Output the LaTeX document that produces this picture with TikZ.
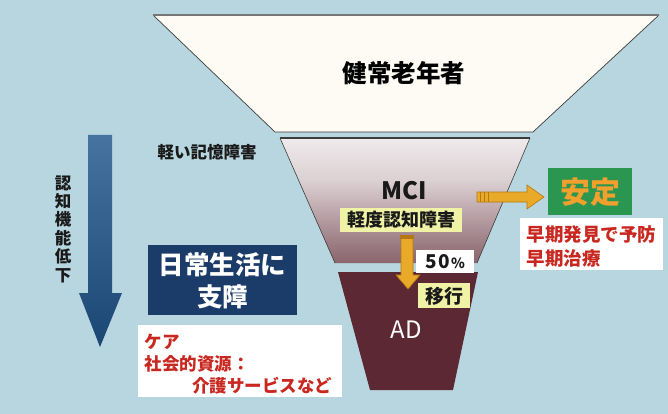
\documentclass[tikz,border=0pt]{standalone}
\usepackage{fontspec}
\newfontfamily\jp{Noto Sans CJK JP}
\usetikzlibrary{arrows.meta}
\definecolor{bgblue}{RGB}{184,214,223}
\definecolor{cream}{RGB}{253,251,244}
\definecolor{maroon}{RGB}{92,40,52}
\definecolor{navy}{RGB}{27,60,105}
\definecolor{arrowblueL}{RGB}{70,115,160}
\definecolor{arrowblueD}{RGB}{25,70,115}
\definecolor{gold}{RGB}{232,170,40}
\definecolor{golddark}{RGB}{180,120,20}
\definecolor{paleyellow}{RGB}{240,242,165}
\definecolor{boxgreen}{RGB}{42,150,80}
\definecolor{orangetext}{RGB}{242,160,45}
\definecolor{redtext}{RGB}{200,40,32}
\definecolor{edgegray}{RGB}{60,60,60}
\pgfdeclareverticalshading{mcishade}{100bp}{color(0bp)=(maroon); color(10bp)=(maroon!92!white); color(32bp)=(maroon!62!white); color(58bp)=(maroon!22!white); color(80bp)=(maroon!6!white); color(100bp)=(cream)}
\tikzset{
  jpbold/.style={font=\jp\bfseries\fontsize{#1}{#1}\selectfont},
}
\begin{document}
\begin{tikzpicture}[x=1pt,y=-1pt]
\useasboundingbox (0,0) rectangle (668,414);
\fill[bgblue] (0,0) rectangle (668,414);

% top trapezoid
\fill[cream] (153,15) -- (659,15) -- (533,132) -- (275,132) -- cycle;
\draw[edgegray, line width=0.7pt] (153,15) -- (275,132) -- (533,132) -- (659,15);
\draw[edgegray!70, line width=1.2pt] (153,15) -- (659,15);
\node[jpbold=24.5, text=black] (healthy) at (404,73) {健常老年者};

% middle (MCI) trapezoid
\shade[shading=mcishade] (280,138) -- (530,138) -- (477,263) -- (335,263) -- cycle;
\draw[edgegray, line width=1.3pt] (280,138) -- (530,138);
\draw[edgegray, line width=0.6pt] (280,138) -- (335,263);
\draw[edgegray, line width=0.6pt] (530,138) -- (477,263);

% AD trapezoid
\fill[maroon] (338,272) -- (478,272) -- (453,390) -- (370,390) -- cycle;
\node[font=\jp\fontsize{24}{24}\selectfont, text=white] (ad) at (406,330) {AD};

% mild memory impairment label
\node[jpbold=16.5, text=black!90] (mild) at (207,152) {軽い記憶障害};

% blue arrow
\shade[top color=arrowblueL, bottom color=arrowblueD]
  (88,135) -- (112,135) -- (112,293) -- (122,293) -- (100,347) -- (79,293) -- (88,293) -- cycle;
\node[text=black!90, align=center, font=\jp\bfseries\fontsize{16.5}{18.4}\selectfont] (decline) at (63,229) {認\\知\\機\\能\\低\\下};

% navy box
\node[fill=navy, minimum width=149pt, minimum height=70pt, inner sep=0pt] (navybox) at (222.5,280) {};
\node[text=white, align=center, font=\jp\bfseries\fontsize{25.5}{32}\selectfont] (navytext) at (222.5,281) {日常生活に\\支障};

% white box left with red text
\node[fill=white, minimum width=204pt, minimum height=72pt, inner sep=0pt] (carebox) at (240,361) {};
\node[jpbold=17.5, text=redtext, anchor=west] (care1) at (141,342) {ケア};
\node[jpbold=17.5, text=redtext, anchor=west] (care2) at (141,364) {社会的資源：};
\node[jpbold=17.5, text=redtext, anchor=east] (care3) at (336,386) {介護サービスなど};

% MCI text
\node[jpbold=24, text=black!90] (mci) at (404,191) {MCI};
\node[fill=paleyellow, minimum width=122pt, minimum height=24pt, inner sep=0pt] (mcibox) at (401,220) {};
\node[jpbold=18, text=black!90] (mcitext) at (401,220) {軽度認知障害};

% down arrow (gold)
\filldraw[fill=gold, draw=golddark, line width=0.6pt]
  (401,237) -- (413,237) -- (413,275) -- (420,275) -- (408,289) -- (396,275) -- (401,275) -- cycle;
\fill[golddark] (400,235) rectangle (414,239);

% 50% box
\node[fill=white, minimum width=58pt, minimum height=23pt, inner sep=0pt] (pbox) at (445,261.5) {};
\node[jpbold=19, text=black!90] (ptext) at (445,262) {5\kern1.5pt0\kern1.5pt\fontsize{14}{14}\selectfont\%};

% transition box
\node[fill=paleyellow, minimum width=52pt, minimum height=25pt, inner sep=0pt] (tbox) at (444,295.5) {};
\node[jpbold=19, text=black!90] (ttext) at (444,296) {移行};

% right arrow (gold)
\filldraw[fill=gold, draw=golddark, line width=0.6pt]
  (477,192) -- (527,192) -- (527,185) -- (544,197) -- (527,209) -- (527,202) -- (477,202) -- cycle;
\foreach \xx in {480,484,488} \draw[golddark, line width=0.8pt] (\xx,192) -- (\xx,202);

% green stable box
\node[fill=boxgreen, minimum width=84pt, minimum height=47pt, inner sep=0pt] (stablebox) at (590,191.5) {};
\node[jpbold=30, text=orangetext] (stable) at (590,192) {安定};

% white box right with red text
\node[fill=white, minimum width=143pt, minimum height=52pt, inner sep=0pt] (earlybox) at (591.5,244) {};
\node[jpbold=18.5, text=redtext, anchor=west] (early1) at (523,235) {早期発見で予防};
\node[jpbold=18.5, text=redtext, anchor=west] (early2) at (523,258) {早期治療};
\end{tikzpicture}
\end{document}
